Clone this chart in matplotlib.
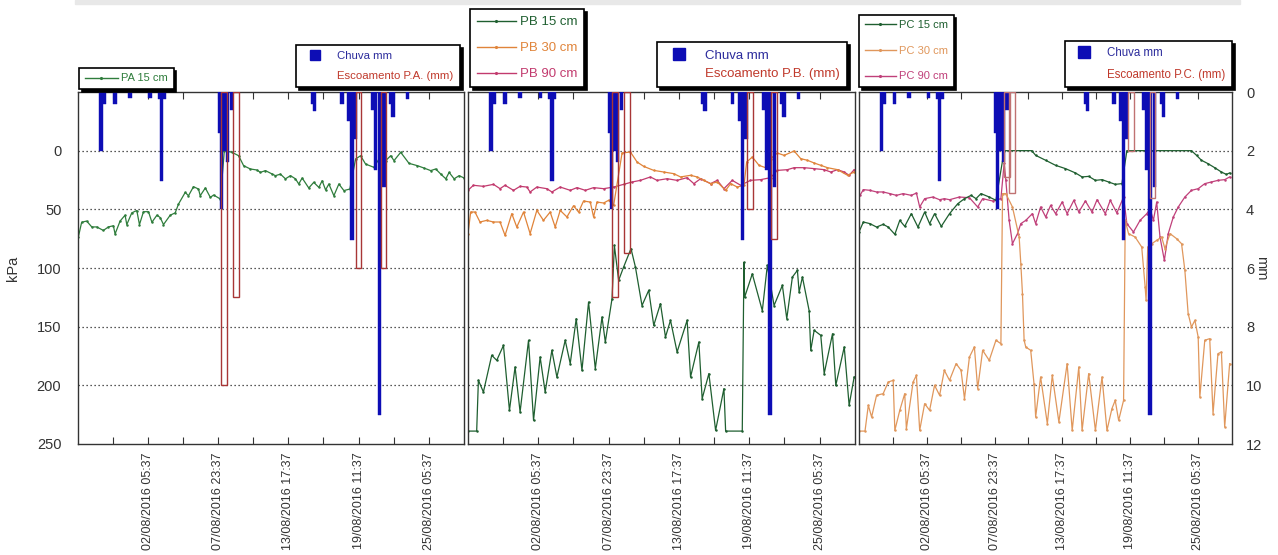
import datetime as dt

import matplotlib
matplotlib.use("Agg")
import matplotlib.pyplot as plt
import matplotlib.dates as mdates
from matplotlib.lines import Line2D
from matplotlib.patches import Patch, Rectangle

plt.rcParams["font.family"] = ["Liberation Sans", "DejaVu Sans"]

# --- data (x = days since 27/07/2016 11:37) ------------------------------
T0 = dt.datetime(2016, 7, 27, 11, 37)
SPAN = 31.65

rain_t = [1.89, 2.14, 3.02, 4.25, 5.92, 6.66, 6.86, 7.07, 11.59, 11.75, 12.0,
          12.24, 12.57, 19.23, 19.37, 21.64, 22.19, 22.46, 22.72, 24.16, 24.4,
          24.7, 25.09, 25.68, 25.84, 27.03]
rain_mm = [2.0, 0.4, 0.42, 0.22, 0.22, 0.25, 3.05, 0.25, 1.4, 4.0, 2.0,
           2.4, 0.6, 0.41, 0.64, 0.42, 1.0, 5.05, 1.6, 0.6, 2.66,
           11.0, 3.23, 0.4, 0.84, 0.23]

runoff_a_t = [11.98, 12.98, 23.0, 25.06]
runoff_a_mm = [10.0, 7.0, 6.0, 6.0]
runoff_b_t = [12.05, 13.03, 23.09, 25.03]
runoff_b_mm = [7.0, 5.5, 4.0, 5.0]
runoff_c_t = [12.55, 13.0, 23.08, 24.92]
runoff_c_mm = [2.9, 3.46, 2.0, 3.6]

pa15_t = [0.02, 0.30, 0.71, 1.13, 1.54, 2.08, 2.49, 2.90, 3.04, 3.45, 3.86, 4.00,
          4.41, 4.82, 5.04, 5.37, 5.78, 6.06, 6.47, 6.74, 7.01, 7.56, 7.97, 8.24,
          8.79, 9.06, 9.47, 9.88, 10.02, 10.44, 10.85, 11.12, 11.67, 12.0, 12.63,
          13.17, 13.58, 14.13, 14.68, 14.95, 15.37, 15.92, 16.19, 16.6, 17.01,
          17.42, 17.83, 18.1, 18.38, 18.92, 19.33, 19.75, 20.02, 20.3, 20.57,
          20.98, 21.39, 21.8, 22.29, 22.76, 23.17, 23.58, 24.26, 24.68, 25.23,
          25.64, 25.91, 26.46, 27.14, 27.83, 28.37, 28.92, 29.33, 29.75, 30.16,
          30.43, 30.84, 31.25, 31.66]
pa15_kpa = [74, 61, 60, 65, 65, 68, 65, 64, 71, 60, 55, 63,
            53, 51, 63, 52, 52, 61, 55, 57, 63, 55, 53, 45.5,
            35.6, 38.4, 30.7, 32.7, 38.4, 31.8, 39.8, 37.8, 41.2, 0, 1.4,
            4.3, 12.8, 15.6, 16.5, 18.5, 17, 19.9, 21.3, 20, 24,
            21.3, 24, 28.4, 23.3, 31.8, 27, 31.3, 25.6, 33.5, 28.4,
            38.4, 28.4, 34, 32.7, 7.1, 4.3, 11.4, 14.2, 7.1, 8.5,
            4.3, 8.5, 1.4, 10.8, 12.8, 14.8, 17, 15.6, 20, 24,
            18.5, 24, 21.3, 23.3]

pb90_t = [0, 0.44, 1.26, 2.08, 2.62, 3.03, 3.72, 4.26, 4.81, 5.08, 5.63, 6.45,
          6.86, 7.54, 8.36, 8.91, 9.59, 10.27, 11.09, 11.91, 12.73, 13.42, 14.1,
          14.92, 15.46, 16.28, 17.1, 17.92, 18.47, 19.02, 19.84, 20.38, 20.93,
          21.61, 22.3, 23.1, 23.93, 24.75, 25.3, 26.12, 26.67, 27.49, 28.31,
          29.13, 29.67, 30.22, 30.77, 31.17, 31.58]
pb90_kpa = [33.8, 29.5, 30.4, 28.7, 32.4, 29.5, 33.8, 30.4, 31, 35.2, 31, 32.4,
            35.2, 31, 33.8, 31.5, 33.8, 31.5, 32.4, 31, 28.7, 26.7, 25.3,
            22.4, 25.3, 23.9, 25.3, 23, 28.1, 23.9, 28.1, 25.3, 32.4,
            25.3, 29.5, 25.3, 24.7, 23, 16.8, 16.2, 14.5, 14.5, 15.3,
            16.2, 18.2, 16.2, 18.2, 21, 16.2]

pb30_t = [0, 0.22, 0.57, 0.98, 1.53, 2.08, 2.62, 3.03, 3.58, 3.99, 4.54, 5.08,
          5.63, 6.17, 6.72, 7.13, 7.54, 8.09, 8.63, 9.04, 9.45, 10.0, 10.27,
          10.55, 11.09, 11.5, 11.91, 12.6, 13.28, 13.83, 14.37, 15.19, 16.01,
          16.83, 17.38, 18.2, 18.74, 19.29, 19.84, 20.38, 21.07, 21.48, 22.02,
          22.57, 22.79, 23.25, 23.8, 24.34, 24.75, 25.3, 25.85, 26.67, 27.21,
          27.76, 28.31, 28.85, 29.4, 30.22, 31.04, 31.58]
pb30_kpa = [70.7, 52.3, 52.3, 60.8, 59.4, 60.8, 60.8, 72.2, 53.7, 65.1, 52.3, 70.7,
            50.9, 59.4, 52.3, 65.1, 50.9, 56.5, 46.9, 52.3, 42.9, 43.8, 56.5,
            43.8, 44.6, 42.3, 46.6, 2, 1.1, 9.7, 13.4, 16.8, 18.2,
            19.6, 22.4, 21, 22.4, 25.3, 28.1, 26.7, 33.8, 28.1, 31,
            29.5, 9.7, 5.4, 12.5, 14.5, 6.8, 2, 4, 0.3, 6.8,
            8.2, 10.5, 12.5, 14.5, 16.2, 21, 18.2]

pb15_t = [0, 0.71, 0.85, 1.26, 1.94, 2.35, 2.9, 3.39, 3.85, 4.26, 4.95, 5.36,
          5.9, 6.31, 6.86, 7.27, 7.95, 8.36, 8.85, 9.32, 9.86, 10.41, 10.96,
          11.23, 11.78, 11.97, 12.32, 12.73, 13.33, 13.69, 14.23, 14.78, 15.19,
          15.74, 16.15, 16.56, 17.1, 17.92, 18.2, 18.88, 19.15, 19.7, 20.25,
          20.93, 21.07, 22.43, 22.57, 22.62, 23.25, 24.07, 24.48, 25.03, 25.71,
          26.07, 26.53, 26.94, 27.08, 27.35, 27.9, 28.03, 28.31, 28.85, 29.13,
          29.81, 30.08, 30.77, 31.17, 31.58]
pb15_kpa = [239, 239, 195.7, 205.7, 174.4, 178.7, 166, 221.3, 184.4, 222.7, 161.6, 229.8,
            175.9, 205.7, 170.2, 193, 161.6, 181.5, 143.2, 187.2, 129, 185.8, 141.8,
            163.1, 126.1, 80.7, 110.5, 99.1, 83.5, 99.1, 132, 119, 148.9,
            130.4, 158.8, 144.6, 171.6, 144.6, 192.9, 163.1, 211.4, 190, 238.4,
            202.8, 239, 239, 95.2, 125, 105, 136.4, 97.7, 132, 114.8,
            143.2, 107.7, 102, 120.5, 107.7, 136.4, 170.2, 153.1, 157.4, 190,
            156, 200, 167.3, 217, 192.9]

pc15_t = [0, 0.37, 0.93, 1.49, 2.05, 2.48, 3.04, 3.46, 3.88, 4.44, 5.0, 5.57,
          5.99, 6.41, 6.98, 7.68, 8.38, 8.95, 9.51, 9.93, 10.35, 11.05, 11.62,
          12.32, 14.66, 14.99, 15.84, 16.68, 17.52, 18.37, 18.93, 19.49, 20.06,
          20.62, 21.18, 21.74, 22.31, 22.73, 28.21, 28.64, 29.06, 29.62, 30.18,
          30.75, 31.17, 31.45]
pc15_kpa = [69.3, 60.8, 62.2, 65.1, 62.8, 65.1, 71.3, 59.4, 64.5, 53.7, 65.1, 52.3,
            62.2, 53.7, 64.5, 53.7, 45.2, 40.9, 38.1, 40.9, 36.6, 39.5, 42.3,
            0, 0, 4, 8.2, 12.5, 15.3, 19, 22.4, 21.9, 25.3,
            24.7, 26.7, 28.7, 28.1, 0, 0, 4, 8.2, 11.1, 14.5,
            18.2, 20.2, 19]

pc90_t = [0.08, 0.37, 0.93, 1.49, 2.05, 2.62, 3.18, 3.74, 4.44, 4.87, 5.15, 5.57,
          6.27, 6.84, 7.24, 7.68, 8.52, 9.37, 10.07, 10.49, 11.34, 12.04, 12.32,
          12.46, 12.74, 13.02, 13.45, 13.73, 14.15, 14.71, 14.99, 15.41, 15.84,
          16.26, 16.68, 17.24, 17.66, 18.23, 18.65, 19.21, 19.77, 20.2, 20.9,
          21.32, 21.88, 22.45, 22.73, 23.29, 23.85, 24.42, 24.7, 24.98, 25.26,
          25.54, 25.91, 26.24, 26.67, 27.09, 27.65, 28.21, 28.78, 29.34, 29.9,
          30.46, 31.03, 31.45]
pc90_kpa = [38.1, 33.2, 33.8, 35.2, 35.2, 36.6, 38.1, 36.6, 38.1, 36.1, 48, 40.9,
            39.5, 41.8, 40.9, 41.8, 39.5, 40.1, 48, 40.9, 42.9, 40.9, 10.5,
            25.3, 59.4, 79.3, 70.7, 62.2, 59.4, 53.7, 62.2, 48, 56.5,
            46.6, 53.7, 43.8, 53.7, 42.3, 52.3, 42.9, 52.3, 41.8, 53.7,
            42.3, 53.1, 39.5, 62.2, 69.3, 59.4, 53.7, 49.4, 59.4, 43.8,
            73.6, 93.5, 70.7, 56.5, 48, 39.5, 33.8, 32.4, 28.1, 26.7,
            25.3, 24.7, 22.4]

pc30_t = [0, 0.51, 0.79, 1.07, 1.49, 2.05, 2.48, 2.9, 3.04, 3.46, 3.88, 4.02,
          4.59, 4.87, 5.15, 5.57, 5.99, 6.41, 6.84, 7.24, 7.68, 8.24, 8.66,
          8.95, 9.37, 9.79, 10.07, 10.49, 11.05, 11.62, 12.04, 12.18, 12.46,
          13.02, 13.59, 13.73, 13.87, 14.01, 14.15, 14.57, 14.85, 14.99, 15.41,
          15.98, 16.4, 16.96, 17.66, 18.09, 18.65, 18.93, 19.49, 20.06, 20.62,
          21.04, 21.46, 21.74, 22.03, 22.45, 22.59, 22.87, 23.43, 23.99, 24.28,
          24.36, 24.5, 24.84, 25.26, 25.68, 25.96, 26.39, 26.95, 27.37, 27.65,
          27.93, 28.21, 28.5, 28.78, 28.92, 29.34, 29.76, 30.04, 30.46, 30.75,
          31.03, 31.45]
pc30_kpa = [239, 239, 217, 227, 208.5, 207.1, 197.2, 195.7, 238.4, 221.3, 207.1, 237,
            197.2, 191.5, 238.4, 215.6, 221.3, 200, 208.5, 187.2, 195.7, 181.5, 187.2,
            211.4, 175.9, 167.3, 202.8, 170.2, 178.7, 161.6, 164.5, 36.6, 36.6,
            48, 73.6, 96.3, 121.9, 161.6, 167.3, 170.2, 198.6, 227, 192.9,
            232.7, 191.5, 231.3, 181.5, 238.4, 184.4, 238.4, 190, 238.4, 192.9,
            238.4, 219.9, 212.8, 229.8, 212.8, 59.4, 70.7, 73.6, 82.1, 116.2,
            127.6, 82.1, 79.3, 76.4, 73.6, 83.5, 70.7, 75, 79.3, 102,
            138.9, 150.3, 144.6, 158.8, 210, 161.6, 160.2, 224.1, 173, 171.6,
            235.5, 181.5]

# --- styling ---------------------------------------------------------------
RAIN_C = "#0d0db5"
RUNOFF_C = "#a83636"
BASE = mdates.date2num(T0)


def dnum(days):
    return [BASE + d for d in days]


fig = plt.figure(figsize=(12.78, 5.55), dpi=100)
fig.patches.append(Rectangle((75 / 1278, 1 - 4 / 555), 1165 / 1278, 4 / 555,
                             transform=fig.transFigure, color="#e8e8e8", zorder=0))

H = 352 / 555
Y0 = 111 / 555
ax1 = fig.add_axes([78 / 1278, Y0, 386 / 1278, H])
ax2 = fig.add_axes([468 / 1278, Y0, 387 / 1278, H])
ax3 = fig.add_axes([859 / 1278, Y0, 373 / 1278, H])

major = [BASE + 5.75 * k for k in range(1, 6)]
minor = [BASE + 2.875 * k for k in range(1, 11, 2)]


def setup(ax, runoff_t, runoff_mm, runoff_c, left_lab, right_lab):
    ax.set_xlim(BASE, BASE + SPAN)
    ax.set_ylim(250, -50)
    ax.set_yticks([0, 50, 100, 150, 200, 250])
    for v in [0, 50, 100, 150, 200]:
        ax.axhline(v, color="#222", lw=0.9, ls=(0, (1, 2.2)), zorder=0.5)
    ax.set_xticks(major)
    ax.set_xticks(minor, minor=True)
    ax.xaxis.set_major_formatter(mdates.DateFormatter("%d/%m/%Y %H:%M"))
    ax.tick_params(axis="x", which="both", direction="in", top=True, length=5,
                   width=0.8, color="#333")
    ax.tick_params(axis="x", which="major", labelsize=9, labelcolor="#333",
                   labelrotation=90, pad=6)
    ax.tick_params(axis="y", direction="in", left=True, right=False, length=0,
                   labelleft=left_lab, labelsize=10.5, labelcolor="#333", pad=12)
    for s in ax.spines.values():
        s.set_color("#333")
        s.set_linewidth(1.0)

    axr = ax.twinx()
    axr.set_ylim(12, 0)
    axr.set_xlim(BASE, BASE + SPAN)
    axr.set_yticks([0, 2, 4, 6, 8, 10, 12])
    axr.tick_params(axis="y", direction="in", length=0, labelright=right_lab,
                    labelsize=10.5, labelcolor="#333", pad=10)
    axr.bar(dnum(rain_t), rain_mm, width=0.28, bottom=0, color=RAIN_C,
            edgecolor=RAIN_C, lw=0.3, zorder=3)
    axr.bar(dnum(runoff_t), runoff_mm, width=0.47, bottom=0, facecolor="none",
            edgecolor=runoff_c, lw=1.0, zorder=4)
    for s in axr.spines.values():
        s.set_visible(False)
    return axr


r1 = setup(ax1, runoff_a_t, runoff_a_mm, RUNOFF_C, True, False)
r2 = setup(ax2, runoff_b_t, runoff_b_mm, RUNOFF_C, False, False)
r3 = setup(ax3, runoff_c_t, runoff_c_mm, "#c07272", False, True)

ax1.set_ylabel("kPa", fontsize=10.5, color="#333", labelpad=12)
r3.set_ylabel("mm", fontsize=10.5, color="#333", rotation=270, labelpad=4)

G_A = "#2f7d3c"
G_B = "#1f5f30"
O_B = "#e0843a"
M_B = "#c23a6e"
O_C = "#e0975c"
M_C = "#c0407a"

kw = dict(lw=0.9, marker=".", ms=1.6)
ax1.plot(dnum(pa15_t), pa15_kpa, color=G_A, **kw)
ax2.plot(dnum(pb90_t), pb90_kpa, color=M_B, **kw)
ax2.plot(dnum(pb30_t), pb30_kpa, color=O_B, **kw)
ax2.plot(dnum(pb15_t), pb15_kpa, color=G_B, **kw)
ax3.plot(dnum(pc90_t), pc90_kpa, color=M_C, **kw)
ax3.plot(dnum(pc30_t), pc30_kpa, color=O_C, **kw)
ax3.plot(dnum(pc15_t), pc15_kpa, color=G_B, **kw)

# --- legends ----------------------------------------------------------------
SHADOW = {"facecolor": "k", "edgecolor": "k", "alpha": 1.0}


def line_legend(labels, colors, anchor, fs, spacing, hl):
    handles = [Line2D([0], [0], color=c, lw=1.0, marker=".", ms=2.5) for c in colors]
    leg = fig.legend(handles, labels, loc="lower left", bbox_to_anchor=anchor,
                     fontsize=fs, frameon=True, fancybox=False, shadow=SHADOW,
                     edgecolor="k", framealpha=1, borderaxespad=0,
                     labelspacing=spacing, handlelength=hl, handletextpad=0.3,
                     borderpad=0.5)
    leg.get_frame().set_linewidth(1.2)
    for t, c in zip(leg.get_texts(), colors):
        t.set_color(c)


def rain_legend(runoff_label, anchor, fs, spacing, ms):
    handles = [Line2D([0], [0], ls="none", marker="s", ms=ms, color=RAIN_C),
               Patch(facecolor="none", edgecolor="none")]
    leg = fig.legend(handles, ["Chuva mm", runoff_label], loc="lower right",
                     bbox_to_anchor=anchor, fontsize=fs, frameon=True,
                     fancybox=False, shadow=SHADOW, edgecolor="k", framealpha=1,
                     borderaxespad=0, labelspacing=spacing, handlelength=2.2,
                     handletextpad=0.9, borderpad=0.55)
    leg.get_frame().set_linewidth(1.2)
    leg.get_texts()[0].set_color("#2b2b9c")
    leg.get_texts()[1].set_color("#c0392b")


line_legend(["PA 15 cm"], [G_A], (79 / 1278, 466 / 555), 8, 0.9, 3.0)
line_legend(["PB 15 cm", "PB 30 cm", "PB 90 cm"], [G_B, O_B, M_B],
            (470 / 1278, 468 / 555), 9.5, 1.05, 3.0)
line_legend(["PC 15 cm", "PC 30 cm", "PC 90 cm"], [G_B, O_C, M_C],
            (859 / 1278, 468 / 555), 8, 1.4, 2.8)

rain_legend("Escoamento P.A. (mm)", (460 / 1278, 468 / 555), 8.2, 0.85, 7)
rain_legend("Escoamento P.B. (mm)", (847 / 1278, 468 / 555), 9.5, 0.45, 8)
rain_legend("Escoamento P.C. (mm)", (1232 / 1278, 468 / 555), 8.3, 0.8, 8)

fig.savefig("out.png", dpi=100)
